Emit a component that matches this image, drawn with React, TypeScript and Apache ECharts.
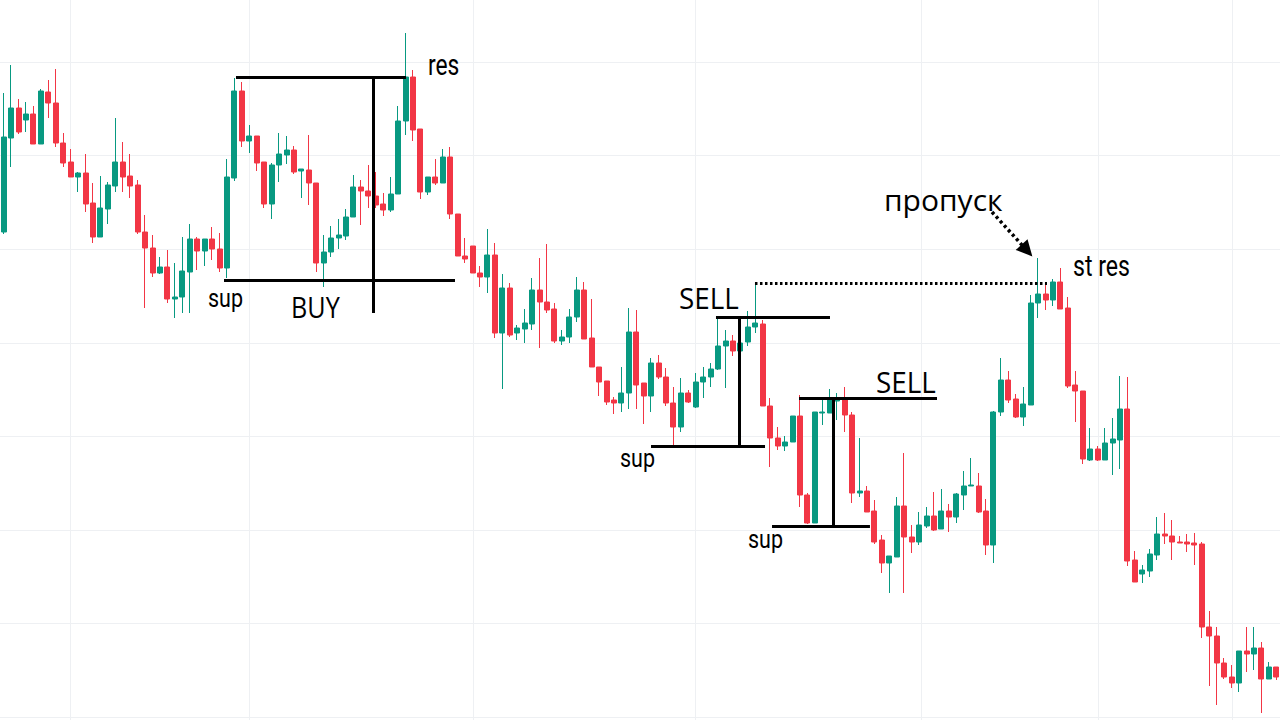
import React, { useEffect, useRef } from "react";
import * as echarts from "echarts";

// Each candle: [open, close, low, high] (price units)
const candleData: number[][] = [
  [488, 583, 486, 627], [582, 612, 553, 655], [612, 588, 586, 621], [600, 606, 588, 618],
  [606, 576, 576, 614], [576, 629, 576, 631], [628, 617, 602, 640], [617, 577, 573, 651],
  [577, 557, 553, 587], [558, 543, 543, 571], [543, 547, 528, 548], [547, 516, 508, 566],
  [517, 483, 477, 537], [483, 512, 483, 544], [511, 535, 496, 538], [534, 558, 528, 602],
  [558, 543, 528, 578], [544, 534, 522, 566], [535, 488, 486, 540], [488, 472, 412, 505],
  [472, 447, 443, 485], [447, 453, 446, 463], [453, 421, 417, 470], [421, 423, 402, 457],
  [423, 449, 407, 483], [448, 481, 407, 496], [481, 469, 450, 483], [469, 481, 454, 481],
  [481, 471, 460, 493], [471, 452, 448, 487], [452, 543, 442, 561], [542, 629, 539, 642],
  [629, 579, 573, 638], [579, 584, 567, 595], [584, 557, 549, 584], [558, 516, 512, 558],
  [516, 555, 501, 557], [555, 566, 538, 587], [565, 570, 556, 584], [570, 548, 546, 574],
  [549, 551, 522, 551], [550, 537, 515, 585], [537, 457, 448, 537], [457, 468, 433, 485],
  [468, 482, 463, 494], [482, 485, 471, 501], [484, 503, 480, 511], [503, 533, 503, 545],
  [533, 529, 495, 540], [529, 524, 512, 555], [524, 515, 512, 548], [516, 510, 504, 527],
  [510, 526, 508, 543], [526, 599, 526, 614], [599, 643, 585, 687], [643, 590, 579, 650],
  [591, 528, 521, 591], [528, 543, 525, 543], [543, 537, 535, 561], [537, 563, 537, 571],
  [563, 506, 501, 573], [506, 464, 464, 506], [464, 461, 457, 482], [474, 447, 447, 474],
  [447, 443, 433, 454], [443, 465, 427, 491], [465, 387, 382, 477], [387, 432, 331, 446],
  [432, 385, 383, 437], [387, 392, 380, 395], [391, 397, 377, 411], [396, 430, 390, 442],
  [430, 418, 372, 462], [418, 410, 407, 476], [411, 379, 377, 417], [379, 383, 375, 390],
  [383, 403, 377, 411], [403, 430, 398, 443], [430, 381, 381, 438], [382, 353, 353, 421],
  [353, 338, 324, 353], [339, 318, 315, 339], [320, 317, 306, 323], [317, 327, 308, 353],
  [327, 388, 311, 412], [388, 335, 311, 410], [337, 324, 296, 337], [324, 357, 308, 362],
  [357, 343, 341, 365], [343, 317, 314, 352], [317, 293, 275, 333], [293, 327, 288, 342],
  [327, 318, 317, 330], [313, 338, 312, 347], [338, 343, 322, 353], [343, 351, 333, 357],
  [351, 374, 350, 401], [374, 379, 332, 390], [379, 369, 364, 385], [369, 377, 369, 385],
  [378, 393, 374, 409], [393, 397, 387, 437], [396, 314, 314, 400], [314, 282, 253, 322],
  [282, 274, 270, 293], [274, 278, 269, 284], [278, 304, 278, 304], [304, 225, 213, 325],
  [225, 197, 196, 227], [197, 308, 197, 308], [307, 308, 295, 320], [307, 321, 307, 331],
  [319, 321, 300, 327], [321, 305, 288, 333], [305, 227, 217, 308], [227, 229, 223, 282],
  [229, 208, 208, 234], [209, 178, 176, 220], [180, 157, 147, 185], [157, 164, 127, 164],
  [163, 214, 163, 223], [214, 183, 127, 267], [183, 178, 167, 195], [178, 195, 175, 208],
  [194, 204, 192, 213], [204, 190, 189, 228], [191, 209, 191, 231], [209, 203, 188, 216],
  [203, 226, 197, 227], [225, 234, 210, 249], [234, 235, 234, 262], [234, 208, 207, 247],
  [209, 175, 165, 221], [175, 308, 157, 309], [308, 340, 304, 362], [340, 320, 317, 349],
  [321, 303, 302, 326], [303, 316, 294, 333], [315, 417, 315, 425], [417, 426, 402, 462],
  [426, 420, 410, 438], [420, 438, 414, 441], [438, 411, 411, 452], [412, 334, 332, 423],
  [335, 329, 298, 349], [329, 261, 256, 329], [260, 271, 259, 292], [271, 260, 259, 274],
  [260, 277, 260, 292], [277, 281, 245, 302], [280, 311, 251, 344], [311, 159, 154, 343],
  [160, 138, 138, 169], [146, 150, 137, 155], [149, 166, 143, 171], [165, 186, 160, 203],
  [186, 184, 176, 207], [184, 178, 160, 200], [178, 177, 177, 184], [178, 176, 168, 186],
  [177, 175, 155, 187], [176, 93, 82, 178], [93, 84, 34, 109], [84, 57, 15, 93],
  [57, 43, 41, 62], [43, 37, 32, 55], [37, 69, 28, 69], [69, 66, 48, 93],
  [66, 72, 50, 93], [72, 41, 7, 78], [41, 53, 41, 58], [53, 43, 40, 53],
];

const categories = candleData.map((_, i) => String(i + 1));

// Light background grid: price levels and candle slots (index units)
const hGridLevels = [2.8, 96.4, 190, 283.6, 377.2, 470.8, 564.4, 658];
const vGridSlots = [8.91, 32.96, 63.06, 92.89, 123.26, 147.04, 165.05];

// Annotation segments in [candle index, price]
const solidSegments: number[][][] = [
  [[31.21, 643], [54.06, 643]],
  [[29.6, 440], [60.64, 440]],
  [[49.62, 643], [49.62, 407]],
  [[95.71, 403], [111.03, 403]],
  [[98.8, 403], [98.8, 274]],
  [[86.98, 274], [102.3, 274]],
  [[106.87, 322], [125.41, 322]],
  [[111.43, 322], [111.43, 194]],
  [[103.24, 194], [116.4, 194]],
];
const dottedSegment = [[100.95, 437], [140.19, 437]];
const arrowSegment = [[132.8, 508], [137.5, 469.5]];

const annotationTexts = [
  { text: "res", x: 428, baseline: 74, size: 30, family: "Roboto", scaleX: 0.76 },
  { text: "sup", x: 208, baseline: 306, size: 25, family: "Roboto", scaleX: 0.86 },
  { text: "BUY", x: 291, baseline: 315, size: 30, family: "Open Sans", scaleX: 0.84 },
  { text: "SELL", x: 679, baseline: 306, size: 29, family: "Open Sans", scaleX: 0.96 },
  { text: "sup", x: 620, baseline: 466, size: 25, family: "Roboto", scaleX: 0.86 },
  { text: "SELL", x: 876, baseline: 390, size: 29, family: "Open Sans", scaleX: 0.96 },
  { text: "sup", x: 748, baseline: 547, size: 25, family: "Roboto", scaleX: 0.86 },
  { text: "пропуск", x: 884, baseline: 208, size: 30, family: "Open Sans", scaleX: 1 },
  { text: "st res", x: 1073, baseline: 275, size: 30, family: "Roboto", scaleX: 0.77 },
];

const UP = "#089981";
const DOWN = "#f23645";

export default function App() {
  const ref = useRef<HTMLDivElement>(null);

  useEffect(() => {
    if (!ref.current) return;
    const chart = echarts.init(ref.current, undefined, { renderer: "svg" });
    const last = candleData.length - 0.5;

    chart.setOption({
      animation: false,
      backgroundColor: "#ffffff",
      grid: { left: 0, right: 0, top: 0, bottom: 0 },
      xAxis: [
        { type: "category", data: categories, show: false, boundaryGap: true },
        { type: "value", min: -0.5, max: last, show: false },
      ],
      yAxis: { type: "value", min: 0, max: 720, show: false },
      series: [
        {
          type: "lines",
          coordinateSystem: "cartesian2d",
          xAxisIndex: 1,
          yAxisIndex: 0,
          silent: true,
          z: 1,
          lineStyle: { color: "#eef0f3", width: 1, opacity: 1 },
          data: [
            ...hGridLevels.map((v) => ({ coords: [[-0.5, v], [last, v]] })),
            ...vGridSlots.map((s) => ({ coords: [[s, 0], [s, 720]] })),
          ],
        },
        {
          type: "candlestick",
          data: candleData,
          barWidth: "74%",
          z: 2,
          itemStyle: {
            color: UP,
            color0: DOWN,
            borderColor: UP,
            borderColor0: DOWN,
            borderWidth: 1,
          },
        },
        {
          type: "lines",
          coordinateSystem: "cartesian2d",
          xAxisIndex: 1,
          yAxisIndex: 0,
          silent: true,
          z: 5,
          lineStyle: { color: "#000000", width: 3, opacity: 1, cap: "butt" },
          data: solidSegments.map((c) => ({ coords: c })),
        },
        {
          type: "lines",
          coordinateSystem: "cartesian2d",
          xAxisIndex: 1,
          yAxisIndex: 0,
          silent: true,
          z: 5,
          lineStyle: { color: "#000000", width: 3, opacity: 1, type: [2.5, 2.5] },
          data: [{ coords: dottedSegment }],
        },
        {
          type: "lines",
          coordinateSystem: "cartesian2d",
          xAxisIndex: 1,
          yAxisIndex: 0,
          silent: true,
          z: 5,
          symbol: ["none", "triangle"],
          symbolSize: 16,
          lineStyle: { color: "#000000", width: 3.5, opacity: 1, type: [3, 3] },
          data: [{ coords: arrowSegment }],
        },
      ],
      graphic: annotationTexts.map((t) => ({
        type: "text",
        x: t.x,
        y: t.baseline - 0.3 * t.size,
        scaleX: t.scaleX,
        z: 100,
        silent: true,
        style: {
          text: t.text,
          fontSize: t.size,
          fontFamily: t.family,
          fill: "#000000",
          align: "left",
          verticalAlign: "middle",
        },
      })),
    });

    return () => chart.dispose();
  }, []);

  return (
    <div
      ref={ref}
      style={{ position: "fixed", left: 0, top: 0, width: 1280, height: 720, background: "#fff" }}
    />
  );
}
